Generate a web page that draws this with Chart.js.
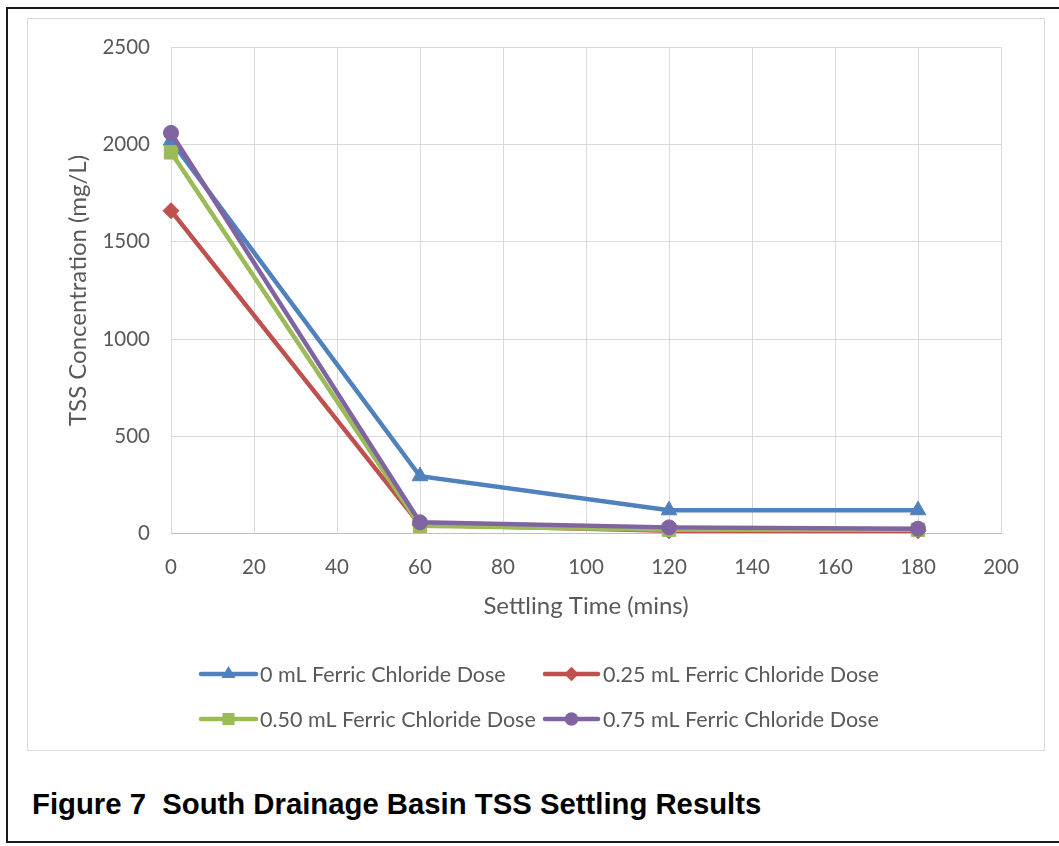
<!DOCTYPE html>
<html>
<head>
<meta charset="utf-8">
<script src="https://cdn.jsdelivr.net/npm/chart.js@4/dist/chart.umd.min.js"></script>
<style>
  html, body { margin: 0; padding: 0; background: #fff; }
  body { width: 1059px; height: 846px; position: relative; overflow: hidden; }
  #outer { position: absolute; left: 6px; top: 7px; width: 1070px; height: 836px; border: 2px solid #1a1a1a; box-sizing: border-box; }
  #frame { position: absolute; left: 27px; top: 18px; width: 1018px; height: 733px; border: 1px solid #d9d9d9; box-sizing: border-box; }
  #wrap { position: absolute; left: 28px; top: 14px; width: 1016px; height: 736px; }
  #caption { position: absolute; left: 32px; top: 787px; font-family: "Liberation Sans", Arial, sans-serif; font-weight: bold; font-size: 29.3px; line-height: 34px; color: #000; white-space: pre; }
</style>
</head>
<body>
<div id="outer"></div>
<div id="frame"></div>
<div id="wrap"><canvas id="myChart" width="1016" height="736"></canvas></div>
<div id="caption">Figure 7  South Drainage Basin TSS Settling Results</div>
<script>
// Данни, прочетени от графиката
const times = [0, 60, 120, 180];
const dose000 = [2020, 295, 120, 120];
const dose025 = [1660, 45, 15, 15];
const dose050 = [1960, 40, 20, 20];
const dose075 = [2060, 58, 32, 25];
const seriesNames = [
    '0 mL Ferric Chloride Dose',
    '0.25 mL Ferric Chloride Dose',
    '0.50 mL Ferric Chloride Dose',
    '0.75 mL Ferric Chloride Dose'
];
const colors = ['#4F81BD', '#C0504D', '#9BBB59', '#8064A2'];
const shapes = ['triangle', 'rectRot', 'rect', 'circle'];
const radii = [9, 8, 9.5, 7.5];

const fontFamily = 'Lato, "Open Sans", sans-serif';
const textColor = '#595959';

function toPoints(values) {
    return values.map((v, i) => ({ x: times[i], y: v }));
}

const allValues = [dose000, dose025, dose050, dose075];

// Рисуваме маркер за легендата
function drawMarker(ctx, shape, x, y, r, color) {
    ctx.save();
    ctx.fillStyle = color;
    ctx.beginPath();
    if (shape === 'triangle') {
        ctx.moveTo(x, y - r);
        ctx.lineTo(x + r * 0.87, y + r * 0.5);
        ctx.lineTo(x - r * 0.87, y + r * 0.5);
    } else if (shape === 'rectRot') {
        ctx.moveTo(x, y - r);
        ctx.lineTo(x + r, y);
        ctx.lineTo(x, y + r);
        ctx.lineTo(x - r, y);
    } else if (shape === 'rect') {
        const s = r * Math.SQRT1_2;
        ctx.rect(x - s, y - s, 2 * s, 2 * s);
    } else {
        ctx.arc(x, y, r, 0, Math.PI * 2);
    }
    ctx.closePath();
    ctx.fill();
    ctx.restore();
}

// Легенда в две колони като в Excel
const legendPlugin = {
    id: 'excelLegend',
    afterDraw(chart) {
        const ctx = chart.ctx;
        const cols = [{ x1: 173, x2: 228, text: 232 }, { x1: 517, x2: 570, text: 575 }];
        const rows = [660, 705];
        chart.data.datasets.forEach((ds, i) => {
            const c = cols[i % 2];
            const y = rows[Math.floor(i / 2)];
            ctx.save();
            ctx.strokeStyle = ds.borderColor;
            ctx.lineWidth = 4.5;
            ctx.lineCap = 'round';
            ctx.beginPath();
            ctx.moveTo(c.x1, y);
            ctx.lineTo(c.x2, y);
            ctx.stroke();
            ctx.restore();
            drawMarker(ctx, ds.pointStyle, (c.x1 + c.x2) / 2, y, ds.pointRadius * 0.9, ds.borderColor);
            ctx.save();
            ctx.fillStyle = textColor;
            ctx.font = '21.5px ' + fontFamily;
            ctx.textBaseline = 'middle';
            ctx.fillText(ds.label, c.text, y + 1);
            ctx.restore();
        });
    }
};

const datasets = allValues.map((vals, i) => ({
    label: seriesNames[i],
    data: toPoints(vals),
    borderColor: colors[i],
    backgroundColor: colors[i],
    pointBackgroundColor: colors[i],
    pointBorderColor: colors[i],
    pointStyle: shapes[i],
    pointRadius: radii[i],
    pointBorderWidth: 1,
    borderWidth: 4.5,
    tension: 0,
    clip: false,
    order: 4 - i
}));

new Chart(document.getElementById('myChart'), {
    type: 'line',
    data: { datasets: datasets },
    options: {
        responsive: false,
        animation: false,
        layout: { autoPadding: false, padding: { left: 0, right: 43, top: 28, bottom: 129 } },
        scales: {
            x: {
                type: 'linear',
                min: 0,
                max: 200,
                ticks: { stepSize: 20, padding: 21, color: textColor, font: { family: fontFamily, size: 20.5 } },
                grid: { color: '#d9d9d9', drawTicks: false },
                border: { color: '#bfbfbf', width: 1 },
                title: {
                    display: true,
                    text: 'Settling Time (mins)',
                    color: textColor,
                    font: { family: fontFamily, size: 24 },
                    padding: { top: -8, bottom: 0 }
                }
            },
            y: {
                min: 0,
                max: 2500,
                ticks: {
                    stepSize: 500,
                    padding: 21,
                    color: textColor,
                    font: { family: fontFamily, size: 20.5 },
                    callback: v => String(v)
                },
                grid: { color: '#d9d9d9', drawTicks: false },
                border: { display: false },
                title: {
                    display: true,
                    text: 'TSS Concentration (mg/L)',
                    color: textColor,
                    font: { family: fontFamily, size: 24 },
                    padding: { top: 36, bottom: 0 }
                },
                afterFit: scale => { scale.width = 143; }
            }
        },
        plugins: {
            legend: { display: false },
            tooltip: { enabled: false }
        }
    },
    plugins: [legendPlugin]
});
</script>
</body>
</html>
